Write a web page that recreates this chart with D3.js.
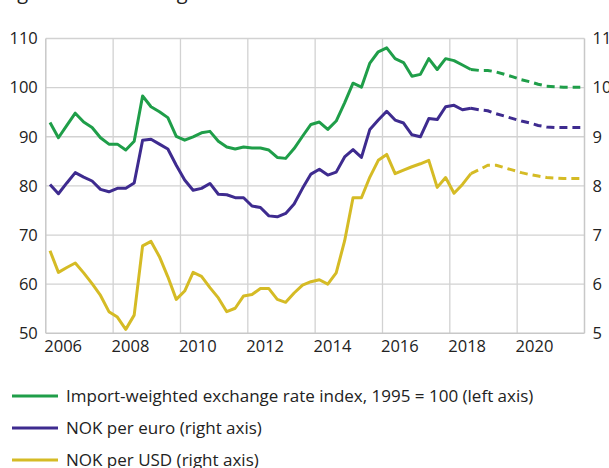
<!DOCTYPE html>
<html>
<head>
<meta charset="utf-8">
<script src="https://cdn.jsdelivr.net/npm/d3@7"></script>
<style>
  body { margin: 0; background: #fff; }
  svg { display: block; font-family: "Open Sans", sans-serif; }
</style>
</head>
<body>
<svg id="chart" width="609" height="468"></svg>
<script>
// quarterly data, 2006Q1 - 2021Q4; actuals to 2018Q3, projections from 2018Q3
const startYear = 2006;
const lastActual = 50; // index of 2018Q3

const importIndex = [
  92.9, 89.8, 92.3, 94.8, 93.0, 91.9, 89.8, 88.5, 88.5, 87.3, 89.1, 98.3,
  96.1, 95.1, 93.9, 90.1, 89.3, 90.0, 90.8, 91.1, 89.1, 87.9, 87.5, 87.9,
  87.7, 87.7, 87.3, 85.8, 85.6, 87.6, 90.1, 92.5, 93.0, 91.5, 93.2, 96.9,
  100.9, 100.1, 105.0, 107.3, 108.1, 105.9, 105.1, 102.3, 102.7, 105.9, 103.7, 105.9,
  105.5, 104.6, 103.7, 103.5, 103.5, 103.2, 102.7, 102.2, 101.6, 101.2, 100.7, 100.3,
  100.2, 100.1, 100.1, 100.1
];
const nokEur = [
  8.03, 7.84, 8.06, 8.27, 8.18, 8.10, 7.93, 7.88, 7.95, 7.95, 8.06, 8.93,
  8.95, 8.85, 8.75, 8.42, 8.12, 7.91, 7.95, 8.05, 7.83, 7.82, 7.76, 7.76,
  7.59, 7.56, 7.39, 7.37, 7.44, 7.63, 7.95, 8.24, 8.34, 8.22, 8.28, 8.59,
  8.74, 8.58, 9.15, 9.34, 9.52, 9.34, 9.28, 9.04, 9.00, 9.37, 9.35, 9.61,
  9.64, 9.55, 9.58, 9.55, 9.53, 9.47, 9.42, 9.37, 9.32, 9.28, 9.23, 9.20,
  9.19, 9.19, 9.19, 9.19
];
const nokUsd = [
  6.68, 6.24, 6.34, 6.43, 6.23, 6.01, 5.77, 5.44, 5.33, 5.08, 5.37, 6.78,
  6.87, 6.56, 6.15, 5.69, 5.86, 6.24, 6.16, 5.93, 5.72, 5.44, 5.51, 5.76,
  5.79, 5.91, 5.91, 5.69, 5.63, 5.82, 5.98, 6.05, 6.09, 6.00, 6.23, 6.88,
  7.76, 7.76, 8.18, 8.52, 8.64, 8.25, 8.32, 8.39, 8.45, 8.52, 7.97, 8.17,
  7.85, 8.03, 8.25, 8.33, 8.42, 8.42, 8.37, 8.32, 8.27, 8.23, 8.20, 8.17,
  8.16, 8.15, 8.15, 8.15
];

const leftTicks = [50, 60, 70, 80, 90, 100, 110];
const rightTicks = [5, 6, 7, 8, 9, 10, 11];
const yearLabels = [2006, 2008, 2010, 2012, 2014, 2016, 2018, 2020];
const yearGrid = [2008, 2010, 2012, 2014, 2016, 2018, 2020];

const series = [
  { name: 'Import-weighted exchange rate index, 1995 = 100 (left axis)', values: importIndex, axis: 'left', color: '#1f9e49' },
  { name: 'NOK per euro (right axis)', values: nokEur, axis: 'right', color: '#3e2b8f' },
  { name: 'NOK per USD (right axis)', values: nokUsd, axis: 'right', color: '#d5bb25' }
];

const plotL = 45.8, plotR = 584.5, plotT = 38.5, plotB = 333.3;

const x = d3.scaleLinear().domain([2006, 2022]).range([plotL, plotR]);
const yL = d3.scaleLinear().domain([50, 110]).range([plotB, plotT]);
const yR = d3.scaleLinear().domain([5, 11]).range([plotB, plotT]);

const svg = d3.select('#chart');

// title, mostly cut off above the picture
svg.append('text')
  .attr('x', 2)
  .attr('y', -1)
  .attr('font-size', 20)
  .attr('fill', '#222')
  .text('Figure 1.14 Exchange rates');

const grid = svg.append('g').attr('stroke', '#d2d2d2').attr('stroke-width', 1.3);
grid.selectAll('line.h')
  .data(leftTicks.slice(1))
  .join('line')
  .attr('class', 'h')
  .attr('x1', plotL).attr('x2', plotR)
  .attr('y1', (d) => yL(d)).attr('y2', (d) => yL(d));
grid.selectAll('line.v')
  .data(yearGrid)
  .join('line')
  .attr('class', 'v')
  .attr('x1', (d) => x(d)).attr('x2', (d) => x(d))
  .attr('y1', plotT).attr('y2', plotB);

// frame: left, right, bottom
const frame = svg.append('g').attr('stroke', '#c8c8c8').attr('stroke-width', 1.5);
frame.append('line').attr('x1', plotL).attr('x2', plotL).attr('y1', plotT).attr('y2', plotB);
frame.append('line').attr('x1', plotR).attr('x2', plotR).attr('y1', plotT).attr('y2', plotB);
frame.append('line').attr('x1', plotL).attr('x2', plotR).attr('y1', plotB).attr('y2', plotB);

// axes labels
const axisL = d3.axisLeft(yL).tickValues(leftTicks).tickSize(0).tickPadding(8);
svg.append('g').attr('transform', `translate(${plotL},0)`).call(axisL)
  .call((g) => g.select('.domain').remove());
const axisR = d3.axisRight(yR).tickValues(rightTicks).tickFormat(d3.format('d')).tickSize(0).tickPadding(8);
svg.append('g').attr('transform', `translate(${plotR},0)`).call(axisR)
  .call((g) => g.select('.domain').remove());
const axisB = d3.axisBottom(x).tickValues(yearLabels.map((d) => d + 0.5))
  .tickFormat((d) => String(Math.floor(d))).tickSize(0).tickPadding(7);
svg.append('g').attr('transform', `translate(0,${plotB})`).call(axisB)
  .call((g) => g.select('.domain').remove());

svg.selectAll('.tick text')
  .attr('font-family', '"Open Sans", sans-serif')
  .attr('font-size', 16.5)
  .attr('fill', '#222');

// lines
const qx = (i) => x(startYear + (i + 0.5) / 4);
const lines = svg.append('g').attr('fill', 'none').attr('stroke-width', 3).attr('stroke-linejoin', 'round');
series.forEach((s) => {
  const yS = s.axis === 'left' ? yL : yR;
  const line = d3.line().x((d) => qx(d.i)).y((d) => yS(d.v));
  const pts = s.values.map((v, i) => ({ i, v }));
  lines.append('path')
    .attr('d', line(pts.slice(0, lastActual + 1)))
    .attr('stroke', s.color);
  lines.append('path')
    .attr('d', line(pts.slice(lastActual)))
    .attr('stroke', s.color)
    .attr('stroke-dasharray', '8,5');
});

// legend
const legend = svg.append('g').attr('transform', 'translate(12,396)');
const item = legend.selectAll('g')
  .data(series)
  .join('g')
  .attr('transform', (_, i) => `translate(0,${i * 32})`);
item.append('line')
  .attr('x1', 0).attr('x2', 46)
  .attr('y1', 0).attr('y2', 0)
  .attr('stroke', (d) => d.color)
  .attr('stroke-width', 3);
item.append('text')
  .attr('x', 54)
  .attr('y', 0)
  .attr('dy', '0.35em')
  .attr('font-size', 17)
  .attr('fill', '#222')
  .text((d) => d.name);
</script>
</body>
</html>
